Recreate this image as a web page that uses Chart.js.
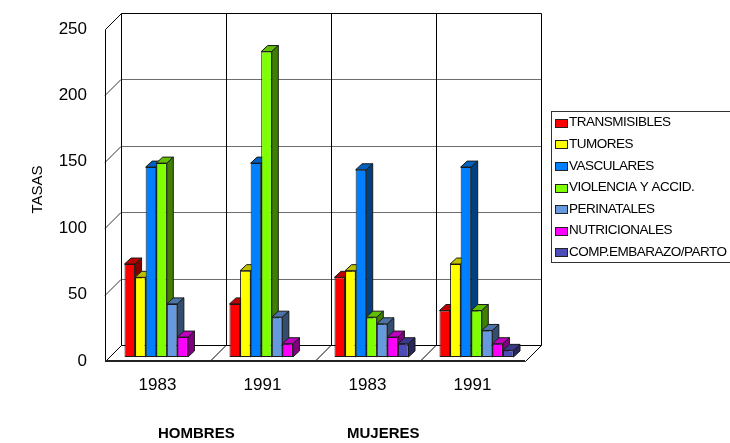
<!DOCTYPE html>
<html>
<head>
<meta charset="utf-8">
<script src="https://cdn.jsdelivr.net/npm/chart.js@4/dist/chart.umd.min.js"></script>
<style>
  html, body { margin: 0; padding: 0; background: #fff; }
  #wrap { width: 730px; height: 443px; position: relative; }
</style>
</head>
<body>
<div id="wrap"><canvas id="c"></canvas></div>
<script>
// ---- data ----
const categories = ['1983', '1991', '1983', '1991'];
const groupLabels = ['HOMBRES', 'MUJERES'];
const seriesNames = ['TRANSMISIBLES', 'TUMORES', 'VASCULARES', 'VIOLENCIA Y ACCID.',
                     'PERINATALES', 'NUTRICIONALES', 'COMP.EMBARAZO/PARTO'];
const transmisibles = [70, 40, 60, 35];
const tumores       = [60, 65, 65, 70];
const vasculares    = [143, 146, 141, 143];
const violencia     = [146, 230, 30, 35];
const perinatales   = [40, 30, 25, 20];
const nutricionales = [15, 10, 15, 10];
const compEmbarazo  = [null, null, 10, 5];
const yTicks = [0, 50, 100, 150, 200, 250];
const axisTitle = 'TASAS';

const seriesValues = [transmisibles, tumores, vasculares, violencia,
                      perinatales, nutricionales, compEmbarazo];
const seriesColors = ['#FF0000', '#FFFF00', '#0080FF', '#80FF00',
                      '#6699DD', '#FF00FF', '#4D4DB8'];

// ---- 3D geometry ----
const DEPTH = 16;       // depth of the walls / floor
const BAR_SHIFT = 4;    // bars stand a little behind the axis plane
const BAR_DX = 6.5, BAR_DY = -6;

function shade(hex, f) {
  const n = parseInt(hex.slice(1), 16);
  const r = (n >> 16) & 255, g = (n >> 8) & 255, b = n & 255;
  return `rgb(${Math.round(r * f)},${Math.round(g * f)},${Math.round(b * f)})`;
}
function seg(ctx, x1, y1, x2, y2) {
  ctx.beginPath(); ctx.moveTo(x1, y1); ctx.lineTo(x2, y2); ctx.stroke();
}
function poly(ctx, pts, fill, stroke) {
  ctx.beginPath();
  ctx.moveTo(pts[0][0], pts[0][1]);
  for (let i = 1; i < pts.length; i++) ctx.lineTo(pts[i][0], pts[i][1]);
  ctx.closePath();
  if (fill) { ctx.fillStyle = fill; ctx.fill(); }
  if (stroke) { ctx.strokeStyle = stroke; ctx.stroke(); }
}

const box3d = {
  id: 'box3d',
  beforeDatasetsDraw(chart) {
    const { ctx, chartArea: a, scales: { y } } = chart;
    const L = a.left, R = a.right, T = a.top, B = a.bottom, d = DEPTH;
    ctx.save();
    ctx.lineWidth = 1;
    // grid lines on the back wall and the left wall
    yTicks.forEach(v => {
      if (v === yTicks[0] || v === yTicks[yTicks.length - 1]) return;
      const py = Math.round(y.getPixelForValue(v)) + 0.5;
      ctx.strokeStyle = '#6e6e6e';
      seg(ctx, L + d, py - d, R + d, py - d);
      ctx.strokeStyle = '#333';
      seg(ctx, L, py, L + d, py - d);
    });
    // category separators on the back wall and on the floor
    ctx.strokeStyle = '#000';
    const n = categories.length;
    for (let k = 1; k < n; k++) {
      const bx = Math.round(L + k * (R - L) / n) + 0.5;
      seg(ctx, bx + d, T - d, bx + d, B - d);
      seg(ctx, bx, B, bx + d, B - d);
    }
    // outline of walls and floor
    const l = L + 0.5, r = R + 0.5, t = T + 0.5, b = B + 0.5;
    poly(ctx, [[l, b], [l, t], [l + d, t - d], [r + d, t - d], [r + d, b - d], [r, b]], null, '#000');
    seg(ctx, l + d, t - d, l + d, b - d);
    seg(ctx, l + d, b - d, r + d, b - d);
    seg(ctx, l, b, l + d, b - d);
    ctx.lineWidth = 2;
    ctx.strokeStyle = '#222';
    seg(ctx, L, B, R, B);
    ctx.restore();
  },
  beforeDatasetDraw() { return false; },
  afterDatasetsDraw(chart) {
    const ctx = chart.ctx;
    ctx.save();
    ctx.translate(BAR_SHIFT, -BAR_SHIFT);
    ctx.lineWidth = 1;
    for (let j = 0; j < categories.length; j++) {
      chart.data.datasets.forEach((ds, i) => {
        if (ds.data[j] == null) return;
        const el = chart.getDatasetMeta(i).data[j];
        const { x, y, base, width } = el.getProps(['x', 'y', 'base', 'width'], true);
        const left = x - width / 2, right = x + width / 2;
        el.draw(ctx);
        const c = seriesColors[i];
        poly(ctx, [[left, y], [left + BAR_DX, y + BAR_DY], [right + BAR_DX, y + BAR_DY], [right, y]],
             shade(c, 0.75), '#1a1a1a');
        poly(ctx, [[right, y], [right + BAR_DX, y + BAR_DY], [right + BAR_DX, base + BAR_DY], [right, base]],
             shade(c, 0.5), '#1a1a1a');
      });
    }
    ctx.restore();
  },
  afterDraw(chart) {
    const ctx = chart.ctx;
    ctx.save();
    // legend
    const lx = 551.5, ly = 111.5;
    ctx.strokeStyle = '#333';
    ctx.lineWidth = 1;
    ctx.strokeRect(lx, ly, 200, 151);
    ctx.font = '13.5px "Liberation Sans", Arial, sans-serif';
    ctx.letterSpacing = '-0.5px';
    ctx.textAlign = 'left';
    ctx.textBaseline = 'middle';
    seriesNames.forEach((name, i) => {
      const cy = 122.7 + i * 21.6;
      ctx.fillStyle = seriesColors[i];
      ctx.fillRect(555.5, Math.round(cy - 4) + 0.5, 12, 8);
      ctx.strokeStyle = '#222';
      ctx.strokeRect(555.5, Math.round(cy - 4) + 0.5, 12, 8);
      ctx.fillStyle = '#000';
      ctx.fillText(name, 569, cy);
    });
    ctx.letterSpacing = '0px';
    // axis title
    ctx.save();
    ctx.translate(37.5, 189.5);
    ctx.rotate(-Math.PI / 2);
    ctx.textAlign = 'center';
    ctx.font = '15px "Liberation Sans", Arial, sans-serif';
    ctx.fillStyle = '#000';
    ctx.fillText(axisTitle, 0, 0);
    ctx.restore();
    // group labels under the years
    const a = chart.chartArea;
    ctx.font = 'bold 15px "Liberation Sans", Arial, sans-serif';
    ctx.fillStyle = '#000';
    ctx.textAlign = 'left';
    ctx.fillText(groupLabels[0], a.left + 53, 434);
    ctx.fillText(groupLabels[1], a.left + 242, 434);
    ctx.restore();
  }
};

Chart.defaults.font.family = '"Liberation Sans", Arial, sans-serif';
Chart.defaults.color = '#000';

new Chart(document.getElementById('c'), {
  type: 'bar',
  data: {
    labels: categories,
    datasets: seriesNames.map((name, i) => ({
      label: name,
      data: seriesValues[i],
      backgroundColor: seriesColors[i],
      borderColor: '#1a1a1a',
      borderWidth: 1,
      borderSkipped: false,
      barPercentage: 1,
      categoryPercentage: 0.705
    }))
  },
  options: {
    responsive: true,
    maintainAspectRatio: false,
    animation: false,
    events: [],
    devicePixelRatio: 1,
    layout: { padding: { top: 29, right: 205, left: 0, bottom: 0 } },
    plugins: { legend: { display: false }, tooltip: { enabled: false } },
    scales: {
      x: {
        grid: { display: false },
        border: { display: false },
        ticks: { font: { size: 17 }, padding: 6, color: '#000' },
        afterFit(s) { s.height = 82; }
      },
      y: {
        min: 0, max: 250,
        grid: { display: false },
        border: { display: false },
        ticks: { stepSize: 50, font: { size: 17 }, padding: 10, color: '#000' },
        afterFit(s) { s.width = 105; }
      }
    }
  },
  plugins: [box3d]
});
</script>
</body>
</html>
